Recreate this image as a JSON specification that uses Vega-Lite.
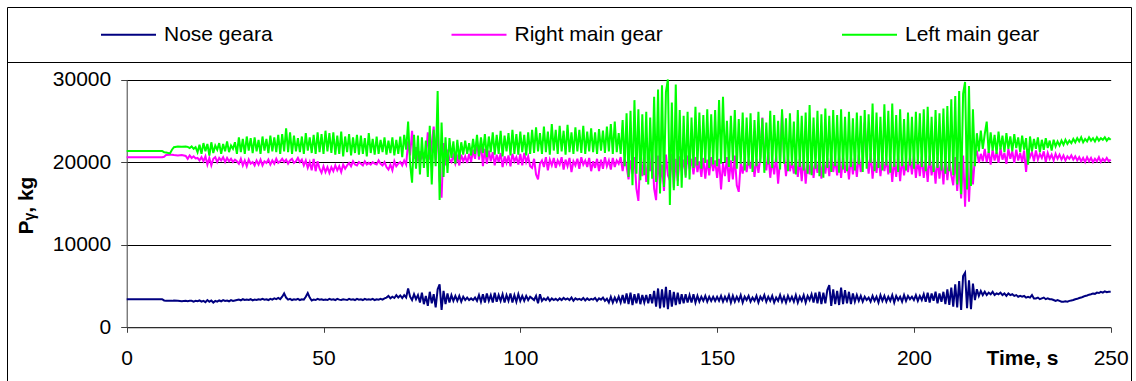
{
  "$schema": "https://vega.github.io/schema/vega-lite/v6.json",
  "width": 1124,
  "height": 375,
  "autosize": "none",
  "padding": {"left": 7, "top": 7, "right": 5, "bottom": 0},
  "background": "white",
  "config": {
    "font": "Liberation Sans",
    "view": {"stroke": "black", "strokeWidth": 1}
  },
  "layer": [
    {
      "data": {
        "values": [
          {"t":0,"n":3400,"r":20600,"l":21350},
          {"t":9,"n":3400,"r":20600,"l":21350},
          {"t":9.5,"n":3250,"r":20650,"l":21200},
          {"t":10,"n":3200,"r":20850,"l":21150},
          {"t":11,"n":3200,"r":20900,"l":21050},
          {"t":11.5,"n":3200,"r":20900,"l":21500},
          {"t":12,"n":3250,"r":20850,"l":21800},
          {"t":13,"n":3200,"r":20800,"l":21900},
          {"t":14,"n":3150,"r":20850,"l":21850},
          {"t":15,"n":3200,"r":20750,"l":21900},
          {"t":15.5,"n":3150,"r":20400,"l":21850},
          {"t":16,"n":3200,"r":20800,"l":21700},
          {"t":16.5,"n":3200,"r":20500,"l":21900},
          {"t":17,"n":3100,"r":20700,"l":21600},
          {"t":17.5,"n":3200,"r":20450,"l":21800},
          {"t":18,"n":3150,"r":20500,"l":21200},
          {"t":18.5,"n":3250,"r":20200,"l":22100},
          {"t":19,"n":3100,"r":20600,"l":21000},
          {"t":19.5,"n":3200,"r":20100,"l":22300},
          {"t":20,"n":3050,"r":20700,"l":21300},
          {"t":20.5,"n":3300,"r":19700,"l":22200},
          {"t":21,"n":3100,"r":20500,"l":20800},
          {"t":21.5,"n":3250,"r":19600,"l":22400},
          {"t":22,"n":3000,"r":20400,"l":21100},
          {"t":22.5,"n":3200,"r":20600,"l":22000},
          {"t":23,"n":3100,"r":20000,"l":21500},
          {"t":23.5,"n":3250,"r":20500,"l":22300},
          {"t":24,"n":3150,"r":20200,"l":21000},
          {"t":24.5,"n":3300,"r":20600,"l":22200},
          {"t":25,"n":3200,"r":20000,"l":21300},
          {"t":25.5,"n":3250,"r":20500,"l":22500},
          {"t":26,"n":3150,"r":20100,"l":21200},
          {"t":26.5,"n":3300,"r":20400,"l":22000},
          {"t":27,"n":3200,"r":20000,"l":21600},
          {"t":27.5,"n":3250,"r":20300,"l":22400},
          {"t":28,"n":3300,"r":20100,"l":21000},
          {"t":28.5,"n":3350,"r":19800,"l":23000},
          {"t":29,"n":3250,"r":20400,"l":21200},
          {"t":29.5,"n":3400,"r":19600,"l":22800},
          {"t":30,"n":3300,"r":20200,"l":21000},
          {"t":30.5,"n":3350,"r":19500,"l":23100},
          {"t":31,"n":3300,"r":20300,"l":21400},
          {"t":31.5,"n":3400,"r":19800,"l":22900},
          {"t":32,"n":3250,"r":20000,"l":21100},
          {"t":32.5,"n":3350,"r":19600,"l":23000},
          {"t":33,"n":3300,"r":20200,"l":21300},
          {"t":33.5,"n":3400,"r":19700,"l":22700},
          {"t":34,"n":3350,"r":20300,"l":21000},
          {"t":34.5,"n":3450,"r":19600,"l":23100},
          {"t":35,"n":3350,"r":20100,"l":21400},
          {"t":35.5,"n":3400,"r":19900,"l":22800},
          {"t":36,"n":3300,"r":20300,"l":21100},
          {"t":36.5,"n":3450,"r":19700,"l":23200},
          {"t":37,"n":3350,"r":20200,"l":21300},
          {"t":37.5,"n":3500,"r":19800,"l":23000},
          {"t":38,"n":3400,"r":20400,"l":21200},
          {"t":38.5,"n":3550,"r":19900,"l":23300},
          {"t":39,"n":3400,"r":20100,"l":21000},
          {"t":39.5,"n":3700,"r":20400,"l":23400},
          {"t":40,"n":4100,"r":20000,"l":21300},
          {"t":40.5,"n":3600,"r":20300,"l":24100},
          {"t":41,"n":3350,"r":19800,"l":21200},
          {"t":41.5,"n":3450,"r":20200,"l":23600},
          {"t":42,"n":3300,"r":20400,"l":21000},
          {"t":42.5,"n":3400,"r":19900,"l":23200},
          {"t":43,"n":3350,"r":20100,"l":21300},
          {"t":43.5,"n":3450,"r":20500,"l":22900},
          {"t":44,"n":3300,"r":20000,"l":21200},
          {"t":44.5,"n":3400,"r":20300,"l":23100},
          {"t":45,"n":3350,"r":19600,"l":21000},
          {"t":45.5,"n":3700,"r":20200,"l":23500},
          {"t":46,"n":4150,"r":19300,"l":21400},
          {"t":46.5,"n":3600,"r":20000,"l":23000},
          {"t":47,"n":3250,"r":19000,"l":21100},
          {"t":47.5,"n":3350,"r":20400,"l":23300},
          {"t":48,"n":3300,"r":18900,"l":21000},
          {"t":48.5,"n":3450,"r":20100,"l":23600},
          {"t":49,"n":3350,"r":19200,"l":21200},
          {"t":49.5,"n":3400,"r":18700,"l":23400},
          {"t":50,"n":3300,"r":19500,"l":21000},
          {"t":50.5,"n":3350,"r":18800,"l":23800},
          {"t":51,"n":3300,"r":19400,"l":21300},
          {"t":51.5,"n":3450,"r":18700,"l":23500},
          {"t":52,"n":3350,"r":19400,"l":21100},
          {"t":52.5,"n":3400,"r":18900,"l":23600},
          {"t":53,"n":3300,"r":19600,"l":20900},
          {"t":53.5,"n":3450,"r":19000,"l":23200},
          {"t":54,"n":3350,"r":19500,"l":21000},
          {"t":54.5,"n":3300,"r":18800,"l":23700},
          {"t":55,"n":3400,"r":19700,"l":20700},
          {"t":55.5,"n":3350,"r":19200,"l":23100},
          {"t":56,"n":3300,"r":19600,"l":21200},
          {"t":56.5,"n":3450,"r":19900,"l":23400},
          {"t":57,"n":3350,"r":19500,"l":20800},
          {"t":57.5,"n":3400,"r":20100,"l":23000},
          {"t":58,"n":3300,"r":19700,"l":21100},
          {"t":58.5,"n":3450,"r":19600,"l":23300},
          {"t":59,"n":3350,"r":20000,"l":20900},
          {"t":59.5,"n":3400,"r":19800,"l":23200},
          {"t":60,"n":3300,"r":19600,"l":21000},
          {"t":60.5,"n":3450,"r":20100,"l":22900},
          {"t":61,"n":3350,"r":19700,"l":20700},
          {"t":61.5,"n":3400,"r":19900,"l":23500},
          {"t":62,"n":3350,"r":19700,"l":21100},
          {"t":62.5,"n":3450,"r":20000,"l":22800},
          {"t":63,"n":3300,"r":19800,"l":20900},
          {"t":63.5,"n":3400,"r":19700,"l":23100},
          {"t":64,"n":3350,"r":20200,"l":21000},
          {"t":64.5,"n":3450,"r":19800,"l":22700},
          {"t":65,"n":3350,"r":19600,"l":21200},
          {"t":65.5,"n":3500,"r":20000,"l":23000},
          {"t":66,"n":3600,"r":19400,"l":20900},
          {"t":66.5,"n":3800,"r":19100,"l":22600},
          {"t":67,"n":3500,"r":19700,"l":21100},
          {"t":67.5,"n":3700,"r":19000,"l":23000},
          {"t":68,"n":3550,"r":20100,"l":20800},
          {"t":68.5,"n":3900,"r":19500,"l":22700},
          {"t":69,"n":3600,"r":19800,"l":21000},
          {"t":69.5,"n":3850,"r":20000,"l":23100},
          {"t":70,"n":3550,"r":19600,"l":20600},
          {"t":70.5,"n":3900,"r":20200,"l":23300},
          {"t":71,"n":3600,"r":19700,"l":21500},
          {"t":71.5,"n":4700,"r":22500,"l":24900},
          {"t":72,"n":3700,"r":20800,"l":19800},
          {"t":72.5,"n":3300,"r":23800,"l":17500},
          {"t":73,"n":4000,"r":20400,"l":23300},
          {"t":73.5,"n":3400,"r":21800,"l":19200},
          {"t":74,"n":3900,"r":20100,"l":23200},
          {"t":74.5,"n":3000,"r":21300,"l":18500},
          {"t":75,"n":4200,"r":20500,"l":23000},
          {"t":75.5,"n":2800,"r":21000,"l":19300},
          {"t":76,"n":3800,"r":20600,"l":22600},
          {"t":76.5,"n":2600,"r":23600,"l":18200},
          {"t":77,"n":4300,"r":20300,"l":24400},
          {"t":77.5,"n":2900,"r":22200,"l":17300},
          {"t":78,"n":4000,"r":24300,"l":23900},
          {"t":78.5,"n":2400,"r":20000,"l":19500},
          {"t":79,"n":4600,"r":25100,"l":28600},
          {"t":79.5,"n":5200,"r":17800,"l":15400},
          {"t":80,"n":2100,"r":15700,"l":24800},
          {"t":80.5,"n":4400,"r":22300,"l":18200},
          {"t":81,"n":2800,"r":19600,"l":23000},
          {"t":81.5,"n":4100,"r":21500,"l":18700},
          {"t":82,"n":3000,"r":20300,"l":22900},
          {"t":82.5,"n":3900,"r":20000,"l":20500},
          {"t":83,"n":3200,"r":20800,"l":22500},
          {"t":83.5,"n":3800,"r":19800,"l":19800},
          {"t":84,"n":3200,"r":20600,"l":22700},
          {"t":84.5,"n":3800,"r":19600,"l":20300},
          {"t":85,"n":3100,"r":20900,"l":22400},
          {"t":85.5,"n":3700,"r":20100,"l":20900},
          {"t":86,"n":3300,"r":20700,"l":22600},
          {"t":86.5,"n":3600,"r":19900,"l":21000},
          {"t":87,"n":3300,"r":21000,"l":22300},
          {"t":87.5,"n":3500,"r":20000,"l":20800},
          {"t":88,"n":3300,"r":21500,"l":22800},
          {"t":88.5,"n":3600,"r":20400,"l":21000},
          {"t":89,"n":3200,"r":22600,"l":23300},
          {"t":89.5,"n":3900,"r":20300,"l":20700},
          {"t":90,"n":3100,"r":22400,"l":23000},
          {"t":90.5,"n":4000,"r":19500,"l":21100},
          {"t":91,"n":3000,"r":21600,"l":23400},
          {"t":91.5,"n":4100,"r":19800,"l":20600},
          {"t":92,"n":3200,"r":21400,"l":23100},
          {"t":92.5,"n":3900,"r":20100,"l":21200},
          {"t":93,"n":3000,"r":21200,"l":23600},
          {"t":93.5,"n":4200,"r":19600,"l":20900},
          {"t":94,"n":3100,"r":20900,"l":23300},
          {"t":94.5,"n":3900,"r":20000,"l":21000},
          {"t":95,"n":3200,"r":21100,"l":23800},
          {"t":95.5,"n":4000,"r":19400,"l":20700},
          {"t":96,"n":3000,"r":20700,"l":23200},
          {"t":96.5,"n":3900,"r":19900,"l":21300},
          {"t":97,"n":3200,"r":20800,"l":23500},
          {"t":97.5,"n":4100,"r":19500,"l":20800},
          {"t":98,"n":3000,"r":21000,"l":23900},
          {"t":98.5,"n":3900,"r":20100,"l":21000},
          {"t":99,"n":3100,"r":20600,"l":23400},
          {"t":99.5,"n":4000,"r":19700,"l":20900},
          {"t":100,"n":3200,"r":21000,"l":23700},
          {"t":100.5,"n":3800,"r":19600,"l":21200},
          {"t":101,"n":3200,"r":21100,"l":23300},
          {"t":101.5,"n":3800,"r":20000,"l":20800},
          {"t":102,"n":3300,"r":20700,"l":23600},
          {"t":102.5,"n":3700,"r":19500,"l":21000},
          {"t":103,"n":3500,"r":19300,"l":23900},
          {"t":103.5,"n":3300,"r":20400,"l":21100},
          {"t":104,"n":3800,"r":18500,"l":24200},
          {"t":104.5,"n":2900,"r":17900,"l":21300},
          {"t":105,"n":4000,"r":19800,"l":23500},
          {"t":105.5,"n":3200,"r":20200,"l":21000},
          {"t":106,"n":3500,"r":19400,"l":24300},
          {"t":106.5,"n":3300,"r":20600,"l":21200},
          {"t":107,"n":3600,"r":19000,"l":23700},
          {"t":107.5,"n":3200,"r":20300,"l":20900},
          {"t":108,"n":3500,"r":19600,"l":24600},
          {"t":108.5,"n":3300,"r":20500,"l":21400},
          {"t":109,"n":3450,"r":19300,"l":23900},
          {"t":109.5,"n":3250,"r":20200,"l":21000},
          {"t":110,"n":3500,"r":19700,"l":24400},
          {"t":110.5,"n":3300,"r":20600,"l":21300},
          {"t":111,"n":3550,"r":19100,"l":23800},
          {"t":111.5,"n":3350,"r":20300,"l":20900},
          {"t":112,"n":3500,"r":19500,"l":24500},
          {"t":112.5,"n":3300,"r":20500,"l":21200},
          {"t":113,"n":3600,"r":18800,"l":23600},
          {"t":113.5,"n":3200,"r":20100,"l":21000},
          {"t":114,"n":3500,"r":19600,"l":24200},
          {"t":114.5,"n":3350,"r":20400,"l":21300},
          {"t":115,"n":3450,"r":19200,"l":23900},
          {"t":115.5,"n":3300,"r":20600,"l":21100},
          {"t":116,"n":3550,"r":19700,"l":24400},
          {"t":116.5,"n":3250,"r":20200,"l":21000},
          {"t":117,"n":3500,"r":19400,"l":23700},
          {"t":117.5,"n":3300,"r":20500,"l":21300},
          {"t":118,"n":3450,"r":18900,"l":24100},
          {"t":118.5,"n":3350,"r":20100,"l":21200},
          {"t":119,"n":3550,"r":19300,"l":23600},
          {"t":119.5,"n":3200,"r":20400,"l":21000},
          {"t":120,"n":3500,"r":18900,"l":24000},
          {"t":120.5,"n":3350,"r":20300,"l":21400},
          {"t":121,"n":3600,"r":19200,"l":23800},
          {"t":121.5,"n":3200,"r":20600,"l":21100},
          {"t":122,"n":3450,"r":19500,"l":24300},
          {"t":122.5,"n":3000,"r":20200,"l":21300},
          {"t":123,"n":3700,"r":19100,"l":24600},
          {"t":123.5,"n":3000,"r":20500,"l":21000},
          {"t":124,"n":3600,"r":19400,"l":24900},
          {"t":124.5,"n":3100,"r":20200,"l":21200},
          {"t":125,"n":3700,"r":19800,"l":23500},
          {"t":125.5,"n":3000,"r":20600,"l":21000},
          {"t":126,"n":3900,"r":18900,"l":25100},
          {"t":126.5,"n":2900,"r":20400,"l":19500},
          {"t":127,"n":4100,"r":19500,"l":25900},
          {"t":127.5,"n":2800,"r":17900,"l":18200},
          {"t":128,"n":4200,"r":20200,"l":26200},
          {"t":128.5,"n":2700,"r":18600,"l":17200},
          {"t":129,"n":4000,"r":20600,"l":27500},
          {"t":129.5,"n":2900,"r":16800,"l":18600},
          {"t":130,"n":4100,"r":15300,"l":26400},
          {"t":130.5,"n":2800,"r":20700,"l":17800},
          {"t":131,"n":3900,"r":18300,"l":25800},
          {"t":131.5,"n":3000,"r":21100,"l":18400},
          {"t":132,"n":3900,"r":17600,"l":26100},
          {"t":132.5,"n":2900,"r":20500,"l":17300},
          {"t":133,"n":4000,"r":18900,"l":25400},
          {"t":133.5,"n":2900,"r":21300,"l":18000},
          {"t":134,"n":4400,"r":16800,"l":27900},
          {"t":134.5,"n":2500,"r":15400,"l":17600},
          {"t":135,"n":4700,"r":20800,"l":28800},
          {"t":135.5,"n":2300,"r":17300,"l":16200},
          {"t":136,"n":4600,"r":19700,"l":29300},
          {"t":136.5,"n":2400,"r":16500,"l":17000},
          {"t":137,"n":4900,"r":20900,"l":28500},
          {"t":137.5,"n":2200,"r":18400,"l":30000},
          {"t":138,"n":4500,"r":17800,"l":14800},
          {"t":138.5,"n":2500,"r":21000,"l":27200},
          {"t":139,"n":4300,"r":16900,"l":16600},
          {"t":139.5,"n":2700,"r":20400,"l":29400},
          {"t":140,"n":4200,"r":17700,"l":17100},
          {"t":140.5,"n":2800,"r":20700,"l":26300},
          {"t":141,"n":4000,"r":18900,"l":16900},
          {"t":141.5,"n":2900,"r":20300,"l":25600},
          {"t":142,"n":4000,"r":18400,"l":18100},
          {"t":142.5,"n":3000,"r":20800,"l":26100},
          {"t":143,"n":3900,"r":19200,"l":17900},
          {"t":143.5,"n":3000,"r":20400,"l":25400},
          {"t":144,"n":4000,"r":18500,"l":19300},
          {"t":144.5,"n":3000,"r":20600,"l":26700},
          {"t":145,"n":3800,"r":18800,"l":19600},
          {"t":145.5,"n":3100,"r":20100,"l":26000},
          {"t":146,"n":3700,"r":18200,"l":19200},
          {"t":146.5,"n":3200,"r":20500,"l":25700},
          {"t":147,"n":3800,"r":18000,"l":19900},
          {"t":147.5,"n":3100,"r":20300,"l":26400},
          {"t":148,"n":3700,"r":18400,"l":19300},
          {"t":148.5,"n":3200,"r":20600,"l":25800},
          {"t":149,"n":3700,"r":18900,"l":19700},
          {"t":149.5,"n":3200,"r":20200,"l":26300},
          {"t":150,"n":3700,"r":18100,"l":19500},
          {"t":150.5,"n":3200,"r":20400,"l":27500},
          {"t":151,"n":3800,"r":16700,"l":19800},
          {"t":151.5,"n":3100,"r":19900,"l":27900},
          {"t":152,"n":3700,"r":18300,"l":20000},
          {"t":152.5,"n":3200,"r":20600,"l":25000},
          {"t":153,"n":3900,"r":17600,"l":19400},
          {"t":153.5,"n":3000,"r":20200,"l":25600},
          {"t":154,"n":3800,"r":17900,"l":20100},
          {"t":154.5,"n":3100,"r":20800,"l":26300},
          {"t":155,"n":3700,"r":17200,"l":19200},
          {"t":155.5,"n":3200,"r":16400,"l":25200},
          {"t":156,"n":3900,"r":19900,"l":19800},
          {"t":156.5,"n":3000,"r":18600,"l":26000},
          {"t":157,"n":3700,"r":20500,"l":19000},
          {"t":157.5,"n":3300,"r":18800,"l":25400},
          {"t":158,"n":3800,"r":20300,"l":19600},
          {"t":158.5,"n":3100,"r":19200,"l":25900},
          {"t":159,"n":3600,"r":20700,"l":18800},
          {"t":159.5,"n":3200,"r":18200,"l":25100},
          {"t":160,"n":3800,"r":20400,"l":19500},
          {"t":160.5,"n":3000,"r":18700,"l":26100},
          {"t":161,"n":3700,"r":20600,"l":19900},
          {"t":161.5,"n":3300,"r":25400,"l":25300},
          {"t":162,"n":3900,"r":20100,"l":18700},
          {"t":162.5,"n":3100,"r":19000,"l":24800},
          {"t":163,"n":3700,"r":21200,"l":19700},
          {"t":163.5,"n":3200,"r":18100,"l":26200},
          {"t":164,"n":3800,"r":20300,"l":19300},
          {"t":164.5,"n":3000,"r":18500,"l":25700},
          {"t":165,"n":3600,"r":20800,"l":20000},
          {"t":165.5,"n":3200,"r":17400,"l":25000},
          {"t":166,"n":3900,"r":20200,"l":19100},
          {"t":166.5,"n":3100,"r":25900,"l":26400},
          {"t":167,"n":3700,"r":21000,"l":19800},
          {"t":167.5,"n":3000,"r":18300,"l":25300},
          {"t":168,"n":3800,"r":20500,"l":18900},
          {"t":168.5,"n":3200,"r":18900,"l":25900},
          {"t":169,"n":3700,"r":20100,"l":19600},
          {"t":169.5,"n":3100,"r":18600,"l":24900},
          {"t":170,"n":3900,"r":20700,"l":18500},
          {"t":170.5,"n":3000,"r":18200,"l":26300},
          {"t":171,"n":3700,"r":20400,"l":19400},
          {"t":171.5,"n":3200,"r":17700,"l":25600},
          {"t":172,"n":3900,"r":20900,"l":19000},
          {"t":172.5,"n":3000,"r":17400,"l":26000},
          {"t":173,"n":3800,"r":20300,"l":18600},
          {"t":173.5,"n":3300,"r":18500,"l":26900},
          {"t":174,"n":4000,"r":20600,"l":18400},
          {"t":174.5,"n":3000,"r":18100,"l":25400},
          {"t":175,"n":4200,"r":20200,"l":19200},
          {"t":175.5,"n":2900,"r":18700,"l":26200},
          {"t":176,"n":4300,"r":20800,"l":18300},
          {"t":176.5,"n":2800,"r":18000,"l":25800},
          {"t":177,"n":4200,"r":20400,"l":18100},
          {"t":177.5,"n":2900,"r":18600,"l":26500},
          {"t":178,"n":4500,"r":20500,"l":19300},
          {"t":178.5,"n":5100,"r":18300,"l":25600},
          {"t":179,"n":2600,"r":20900,"l":18800},
          {"t":179.5,"n":4600,"r":18800,"l":26300},
          {"t":180,"n":2800,"r":20300,"l":19500},
          {"t":180.5,"n":4400,"r":18400,"l":25700},
          {"t":181,"n":2700,"r":20800,"l":18700},
          {"t":181.5,"n":4800,"r":18100,"l":26400},
          {"t":182,"n":2800,"r":20600,"l":19100},
          {"t":182.5,"n":4500,"r":18700,"l":25500},
          {"t":183,"n":2900,"r":20200,"l":18900},
          {"t":183.5,"n":4300,"r":17900,"l":26100},
          {"t":184,"n":2800,"r":20700,"l":19400},
          {"t":184.5,"n":4100,"r":18500,"l":25300},
          {"t":185,"n":3100,"r":20500,"l":19000},
          {"t":185.5,"n":3900,"r":18200,"l":26000},
          {"t":186,"n":3200,"r":20900,"l":19700},
          {"t":186.5,"n":3800,"r":18800,"l":25600},
          {"t":187,"n":3100,"r":20400,"l":18800},
          {"t":187.5,"n":3700,"r":24800,"l":26300},
          {"t":188,"n":3300,"r":20800,"l":19200},
          {"t":188.5,"n":3600,"r":18600,"l":25800},
          {"t":189,"n":3100,"r":21100,"l":19900},
          {"t":189.5,"n":3800,"r":18000,"l":27100},
          {"t":190,"n":3200,"r":20500,"l":18900},
          {"t":190.5,"n":3700,"r":18700,"l":26000},
          {"t":191,"n":3000,"r":20900,"l":19300},
          {"t":191.5,"n":3900,"r":18300,"l":25500},
          {"t":192,"n":3200,"r":20600,"l":19000},
          {"t":192.5,"n":3800,"r":18900,"l":27000},
          {"t":193,"n":3100,"r":20300,"l":19600},
          {"t":193.5,"n":3700,"r":18500,"l":26200},
          {"t":194,"n":3200,"r":20700,"l":18700},
          {"t":194.5,"n":3900,"r":17600,"l":27100},
          {"t":195,"n":3000,"r":20400,"l":19400},
          {"t":195.5,"n":3800,"r":18200,"l":25700},
          {"t":196,"n":3300,"r":20800,"l":18800},
          {"t":196.5,"n":3700,"r":17700,"l":26400},
          {"t":197,"n":3100,"r":20600,"l":19500},
          {"t":197.5,"n":3900,"r":18400,"l":25200},
          {"t":198,"n":3200,"r":20200,"l":19000},
          {"t":198.5,"n":3800,"r":18800,"l":26000},
          {"t":199,"n":3400,"r":20600,"l":19600},
          {"t":199.5,"n":3700,"r":18500,"l":25500},
          {"t":200,"n":3300,"r":20900,"l":19200},
          {"t":200.5,"n":3900,"r":18100,"l":26100},
          {"t":201,"n":3200,"r":20400,"l":19700},
          {"t":201.5,"n":3800,"r":18300,"l":25900},
          {"t":202,"n":3300,"r":20700,"l":19400},
          {"t":202.5,"n":4000,"r":18100,"l":26400},
          {"t":203,"n":3100,"r":20300,"l":18900},
          {"t":203.5,"n":4200,"r":17600,"l":26700},
          {"t":204,"n":3000,"r":20800,"l":19600},
          {"t":204.5,"n":4100,"r":18400,"l":25500},
          {"t":205,"n":3200,"r":20200,"l":18800},
          {"t":205.5,"n":4300,"r":17400,"l":26300},
          {"t":206,"n":2900,"r":20600,"l":19300},
          {"t":206.5,"n":4100,"r":18000,"l":25900},
          {"t":207,"n":3100,"r":20400,"l":19000},
          {"t":207.5,"n":4300,"r":17300,"l":26500},
          {"t":208,"n":2800,"r":20900,"l":18600},
          {"t":208.5,"n":4600,"r":17800,"l":26800},
          {"t":209,"n":2700,"r":20300,"l":18900},
          {"t":209.5,"n":4800,"r":18400,"l":27600},
          {"t":210,"n":2500,"r":17200,"l":18400},
          {"t":210.5,"n":5200,"r":20600,"l":28000},
          {"t":211,"n":2400,"r":16500,"l":17300},
          {"t":211.5,"n":5600,"r":19900,"l":28600},
          {"t":212,"n":2100,"r":15600,"l":16100},
          {"t":212.5,"n":6200,"r":20800,"l":28300},
          {"t":213,"n":6600,"r":14600,"l":29700},
          {"t":213.5,"n":2300,"r":21200,"l":16700},
          {"t":214,"n":5700,"r":15200,"l":29200},
          {"t":214.5,"n":2200,"r":20400,"l":17100},
          {"t":215,"n":5300,"r":17300,"l":26400},
          {"t":215.5,"n":3300,"r":20600,"l":19500},
          {"t":216,"n":4600,"r":21400,"l":23500},
          {"t":216.5,"n":3800,"r":19900,"l":21300},
          {"t":217,"n":4400,"r":21000,"l":23800},
          {"t":217.5,"n":3900,"r":20100,"l":21600},
          {"t":218,"n":4300,"r":21600,"l":23400},
          {"t":218.5,"n":3900,"r":20000,"l":24900},
          {"t":219,"n":4200,"r":21300,"l":21100},
          {"t":219.5,"n":4000,"r":19700,"l":23600},
          {"t":220,"n":4300,"r":21500,"l":21400},
          {"t":220.5,"n":3900,"r":20200,"l":23300},
          {"t":221,"n":4100,"r":21200,"l":21000},
          {"t":221.5,"n":4000,"r":19900,"l":23700},
          {"t":222,"n":4200,"r":21700,"l":21500},
          {"t":222.5,"n":3900,"r":20300,"l":23200},
          {"t":223,"n":4100,"r":21100,"l":21200},
          {"t":223.5,"n":3800,"r":19800,"l":23500},
          {"t":224,"n":4100,"r":21600,"l":21600},
          {"t":224.5,"n":3900,"r":20400,"l":23100},
          {"t":225,"n":4000,"r":21300,"l":21300},
          {"t":225.5,"n":3800,"r":19900,"l":23400},
          {"t":226,"n":3900,"r":21500,"l":21700},
          {"t":226.5,"n":3700,"r":20200,"l":23000},
          {"t":227,"n":3800,"r":21100,"l":21200},
          {"t":227.5,"n":3700,"r":20000,"l":23200},
          {"t":228,"n":3800,"r":21400,"l":21500},
          {"t":228.5,"n":3600,"r":18800,"l":22900},
          {"t":229,"n":3700,"r":21600,"l":19700},
          {"t":229.5,"n":3600,"r":20600,"l":23100},
          {"t":230,"n":3900,"r":21200,"l":21300},
          {"t":230.5,"n":3500,"r":20100,"l":22800},
          {"t":231,"n":3500,"r":21400,"l":21600},
          {"t":231.5,"n":3600,"r":20300,"l":23000},
          {"t":232,"n":3400,"r":21000,"l":21200},
          {"t":232.5,"n":3500,"r":20500,"l":22700},
          {"t":233,"n":3600,"r":21300,"l":21500},
          {"t":233.5,"n":3400,"r":20000,"l":22900},
          {"t":234,"n":3500,"r":21100,"l":21700},
          {"t":234.5,"n":3400,"r":20400,"l":22600},
          {"t":235,"n":3400,"r":20900,"l":21400},
          {"t":235.5,"n":3300,"r":20200,"l":22700},
          {"t":236,"n":3200,"r":21000,"l":21900},
          {"t":236.5,"n":3300,"r":20400,"l":22500},
          {"t":237,"n":3200,"r":20900,"l":22000},
          {"t":237.5,"n":3100,"r":20300,"l":22600},
          {"t":238,"n":3100,"r":20800,"l":22100},
          {"t":238.5,"n":3150,"r":20200,"l":22700},
          {"t":239,"n":3100,"r":20700,"l":22200},
          {"t":239.5,"n":3200,"r":20400,"l":22600},
          {"t":240,"n":3250,"r":20800,"l":22300},
          {"t":240.5,"n":3300,"r":20300,"l":22800},
          {"t":241,"n":3400,"r":20700,"l":22400},
          {"t":241.5,"n":3450,"r":20200,"l":22900},
          {"t":242,"n":3550,"r":20600,"l":22500},
          {"t":242.5,"n":3600,"r":20100,"l":23000},
          {"t":243,"n":3700,"r":20500,"l":22400},
          {"t":243.5,"n":3800,"r":20000,"l":22800},
          {"t":244,"n":3850,"r":20600,"l":22500},
          {"t":244.5,"n":3950,"r":20100,"l":23000},
          {"t":245,"n":4000,"r":20500,"l":22600},
          {"t":245.5,"n":4100,"r":20000,"l":22900},
          {"t":246,"n":4050,"r":20400,"l":22500},
          {"t":246.5,"n":4200,"r":20100,"l":23000},
          {"t":247,"n":4150,"r":20600,"l":22600},
          {"t":247.5,"n":4300,"r":20000,"l":22900},
          {"t":248,"n":4200,"r":20400,"l":22700},
          {"t":248.5,"n":4350,"r":20100,"l":23000},
          {"t":249,"n":4250,"r":20500,"l":22600},
          {"t":249.5,"n":4300,"r":20100,"l":22900},
          {"t":250,"n":4300,"r":20300,"l":22700}
        ]
      },
      "transform": [{"fold": ["n", "r", "l"], "as": ["gear", "P"]}],
      "mark": {"type": "line", "strokeWidth": 2},
      "encoding": {
        "x": {
          "field": "t",
          "type": "quantitative",
          "scale": {"domain": [0, 250], "range": [119.7, 1103.7], "nice": false, "zero": false},
          "axis": {
            "orient": "bottom",
            "offset": -54.7,
            "values": [0, 50, 100, 150, 200, 250],
            "grid": false,
            "domainColor": "#404040",
            "tickColor": "#404040",
            "tickSize": 5,
            "labelFontSize": 21,
            "labelColor": "black",
            "labelPadding": 15,
            "labelFlush": false,
            "title": "Time, s",
            "titleFontSize": 21,
            "titleFontWeight": "bold",
            "titleColor": "black",
            "titleX": 1015,
            "titleY": 31,
            "titleAlign": "center",
            "titleBaseline": "middle"
          }
        },
        "y": {
          "field": "P",
          "type": "quantitative",
          "scale": {"domain": [0, 30000], "range": [320.3, 72.5], "nice": false},
          "axis": {
            "offset": -119.7,
            "values": [0, 10000, 20000, 30000],
            "format": "d",
            "grid": true,
            "gridColor": "black",
            "gridOpacity": 1,
            "gridWidth": 1,
            "domainColor": "#404040",
            "tickColor": "#404040",
            "tickSize": 6,
            "labelFontSize": 21,
            "labelColor": "black",
            "labelPadding": 10,
            "title": "Pᵧ, kg",
            "titleFontSize": 21,
            "titleFontWeight": "bold",
            "titleColor": "black",
            "titleX": -100,
            "titleY": 198,
            "titleAngle": -90,
            "titleAlign": "center",
            "titleBaseline": "middle"
          }
        },
        "color": {
          "field": "gear",
          "type": "nominal",
          "scale": {"domain": ["n", "r", "l"], "range": ["#000080", "#FF00FF", "#00FF00"]},
          "legend": {
            "orient": "none",
            "legendX": 93,
            "legendY": -1,
            "direction": "horizontal",
            "title": null,
            "padding": 0,
            "symbolType": "stroke",
            "symbolSize": 3025,
            "symbolStrokeWidth": 2,
            "labelFontSize": 21,
            "labelColor": "black",
            "labelOffset": 7,
            "labelLimit": 0,
            "columnPadding": 174.5,
            "labelExpr": "datum.label == 'n' ? 'Nose geara' : datum.label == 'r' ? 'Right main gear' : 'Left main gear'"
          }
        }
      }
    },
    {
      "data": {"values": [{}]},
      "mark": {"type": "rule", "opacity": 0},
      "encoding": {
        "x": {
          "datum": 0,
          "type": "quantitative",
          "scale": {"domain": [0, 1]},
          "axis": {
            "orient": "top",
            "offset": -55,
            "domain": true,
            "domainColor": "black",
            "domainWidth": 1,
            "ticks": false,
            "labels": false,
            "grid": false,
            "title": null
          }
        }
      }
    }
  ],
  "resolve": {"scale": {"x": "independent"}, "axis": {"x": "independent"}}
}
